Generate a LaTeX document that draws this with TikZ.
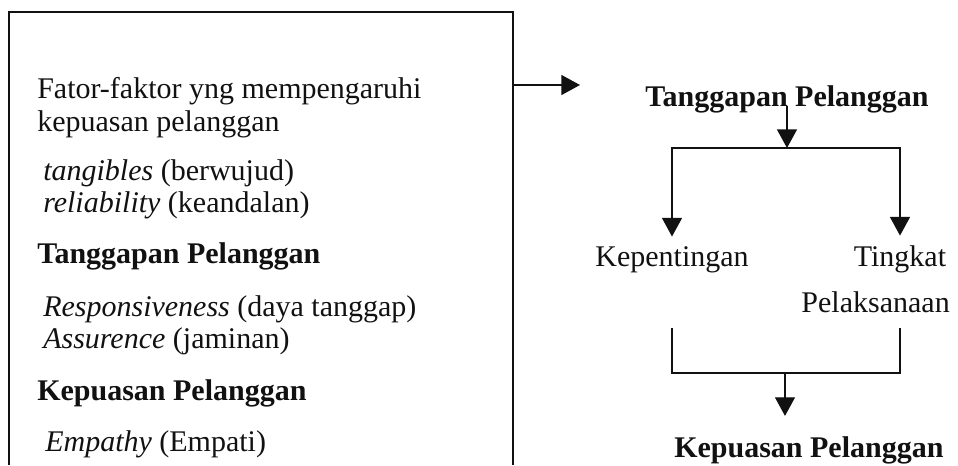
\documentclass[tikz,border=0pt]{standalone}
\usepackage{fontspec}
\setmainfont{Liberation Serif}
\usetikzlibrary{arrows.meta}
\definecolor{ink}{HTML}{111111}
\newcommand{\fs}{\fontsize{22.5}{25}\selectfont}

\begin{document}
\begin{tikzpicture}[x=0.75pt,y=-0.75pt,font=\fs,
  >={Triangle[length=14pt,width=15pt]},
  txt/.style={anchor=base west,inner sep=0pt,text=ink},
  hd/.style={txt,font=\fs\bfseries},
  lab/.style={anchor=base,inner sep=0pt,text=ink},
  frame/.style={draw=ink,line width=1.2pt},
  link/.style={draw=ink,line width=1.1pt}]
\useasboundingbox (0,0) rectangle (958,465);

% ---------------- left frame, open at the bottom ----------------------------
\coordinate (frameBL) at (9,465);
\coordinate (frameTL) at (9,12);
\coordinate (frameTR) at (513,12);
\coordinate (frameBR) at (513,465);
\draw[frame] (frameBL) -- (frameTL) -- (frameTR) -- (frameBR);

\node[txt] (intro1) at (37,98) {Fator-faktor yng mempengaruhi};
\node[txt] (intro2) at (37,131) {kepuasan pelanggan};
\node[txt] (tang) at (43,180) {\textit{tangibles} (berwujud)};
\node[txt] (reli) at (43,212) {\textit{reliability} (keandalan)};
\node[hd]  (headT) at (37,263) {Tanggapan Pelanggan};
\node[txt] (resp) at (43,316) {\textit{Responsiveness} (daya tanggap)};
\node[txt] (assu) at (43,348) {\textit{Assurence} (jaminan)};
\node[hd]  (headK) at (37,400) {Kepuasan Pelanggan};
\node[txt] (empa) at (45,451) {\textit{Empathy} (Empati)};

% ---------------- right: flow -----------------------------------------------
\coordinate (out) at (513,85);
\coordinate (outTip) at (580,85);
\draw[link,->] (out) -- (outTip);

\node[hd,anchor=base] (tangR) at (787,106) {Tanggapan Pelanggan};
\coordinate (split) at (787,148);
\coordinate (splitL) at (672,148);
\coordinate (splitR) at (900,148);
\draw[link,->] (tangR.base) -- (split);

\node[lab] (kepent) at (672,266) {Kepentingan};
\node[lab] (tingkat) at (900,266) {Tingkat};
\node[txt,anchor=base east] (pelaks) at (950,312) {Pelaksanaan};
\draw[link,->,shorten >=7pt] (split) -- (splitL) -- (kepent.north);
\draw[link,->,shorten >=7pt] (split) -- (splitR) -- (tingkat.north);

\coordinate (mergeL) at (672,328);
\coordinate (mergeR) at (900,328);
\coordinate (mergeBL) at (672,373);
\coordinate (mergeBR) at (900,373);
\coordinate (merge) at (785,373);
\draw[link] (mergeL) -- (mergeBL) -- (mergeBR) -- (mergeR);

\node[hd] (puasR) at (674,457) {Kepuasan Pelanggan};
\draw[link,->,shorten >=15pt] (merge) -- (merge |- puasR.north);

\end{tikzpicture}
\end{document}
